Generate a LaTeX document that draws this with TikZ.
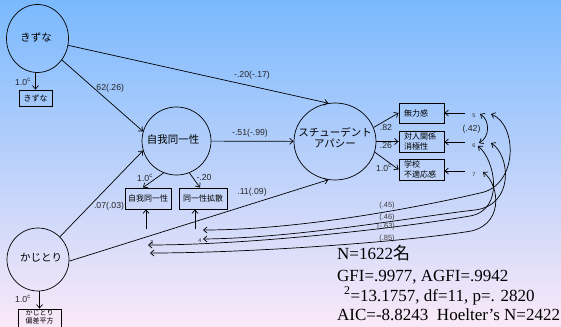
\documentclass[tikz,border=0pt]{standalone}
\usepackage{fontspec}
\setmainfont{Liberation Serif}
\setsansfont{Liberation Sans}
\newfontfamily\jp{Noto Sans CJK JP}
\usetikzlibrary{arrows.meta,shapes.geometric}
\definecolor{bgtop}{RGB}{122,185,254}
\definecolor{bgmid}{RGB}{202,215,240}
\definecolor{bgbot}{RGB}{250,233,248}
\tikzset{
  lat/.style={draw, ellipse, line width=0.7pt, inner sep=0pt},
  lattext/.style={font=\jp\fontsize{10.5}{11.5}\selectfont, inner sep=0pt},
  obs/.style={draw, rectangle, line width=0.9pt, font=\jp\fontsize{8}{9.5}\selectfont, inner sep=0pt},
  obsL/.style={obs, text width=35pt, inner xsep=5pt, align=left},
  arr/.style={line width=0.7pt, -{Straight Barb[length=3.5pt,width=6pt]}},
  darr/.style={line width=0.7pt, {Straight Barb[length=3.5pt,width=6pt]}-{Straight Barb[length=3.5pt,width=6pt]}},
  coef/.style={font=\sffamily\fontsize{8.7}{10}\selectfont, inner sep=0pt, text=black!85},
  cov/.style={font=\sffamily\fontsize{7.5}{8}\selectfont, inner sep=0pt, text=black!75},
  eid/.style={font=\sffamily\fontsize{5.5}{6}\selectfont, inner sep=0pt, text=black!80},
  stat/.style={font=\fontsize{17}{20}\selectfont, anchor=base west, inner sep=0pt},
}
\begin{document}
\begin{tikzpicture}[x=1pt,y=-1pt]
\clip (0,0) rectangle (561,326);
\shade[top color=bgtop, middle color=bgmid, bottom color=bgbot] (0,0) rectangle (561,326);

% latent variables
\node[lat, minimum width=62pt, minimum height=68pt] (kizuna) at (37.5,38.5) {};
\node[lattext] (kizunaT) at (36,37.5) {きずな};
\node[lat, minimum width=69pt, minimum height=68pt] (jiga) at (176.5,141) {};
\node[lattext] (jigaT) at (173,140) {自我同一性};
\node[lat, minimum width=82pt, minimum height=77pt] (sa) at (335,141.5) {};
\node[lattext, align=center] (saT) at (335,137.5) {スチューデント\\アパシー};
\node[lat, minimum width=62pt, minimum height=63pt] (kaji) at (38,259.5) {};
\node[lattext] (kajiT) at (41,258) {かじとり};

% observed variables
\node[obs, minimum width=33pt, minimum height=16pt] (kbox) at (35.5,98) {きずな};
\node[obs, minimum width=46pt, minimum height=21pt] (jb1) at (148,198.5) {自我同一性};
\node[obs, minimum width=48pt, minimum height=21pt] (jb2) at (203,198.5) {同一性拡散};
\node[obsL, minimum height=20pt] (b1) at (421.5,113) {無力感};
\node[obsL, minimum height=21pt] (b2) at (421.5,141.5) {対人関係\\消極性};
\node[obsL, minimum height=21pt] (b3) at (421.5,169.5) {学校\\不適応感};
\node[obs, minimum width=43pt, minimum height=24pt] (kjbox) at (39.5,321) {};
\node[font=\jp\fontsize{7}{7.5}\selectfont, inner sep=0pt, align=center] (kjT) at (39.5,317) {かじとり\\偏差平方};

% paths
\draw[arr] (kbox.north |- kizuna.south) -- (kbox.north);
\draw[arr] (kjbox.north |- kaji.south) -- (kjbox.north);
\draw[arr] (kizuna) -- (jiga.164);
\draw[arr] (kizuna) -- (sa.100);
\draw[arr] (jiga) -- (sa);
\draw[arr] (kaji) -- (jiga.196);
\draw[arr] (kaji.-3) -- (sa.260);
\draw[arr] (jiga.-112) -- ([xshift=-5pt]jb1.north);
\draw[arr] (jiga.-68) -- ([xshift=-3pt]jb2.north);
\draw[arr] (sa.20) -- (b1.west);
\draw[arr] (sa) -- (b2);
\draw[arr] (sa.-15) -- (b3.west);

% error terms
\coordinate (e3) at (146,229);
\coordinate (e4) at (195,229);
\coordinate (e5) at (465,113);
\coordinate (e6) at (465,142);
\coordinate (e7) at (465,171);
\draw[arr] (e3) -- (e3 |- jb1.south);
\draw[arr] (e4) -- (e4 |- jb2.south);
\draw[arr] (e5) -- (e5 -| b1.east);
\draw[arr] (e6) -- (e6 -| b2.east);
\draw[arr] (e7) -- (e7 -| b3.east);
\node[eid] (n5) at (474,116) {5};
\node[eid] (n6) at (474,146) {6};
\node[eid] (n7) at (474,175) {7};
\node[eid] (n4) at (200,241) {4};
\node[eid] (n3) at (152,243) {3};

% covariances
\coordinate (c5i) at (480,114);
\coordinate (c6i) at (479,143);
\coordinate (c5o) at (491,114);
\coordinate (c6o) at (491,143);
\coordinate (c6j) at (478,146);
\coordinate (c7) at (483,172);
\coordinate (l1) at (203,230);
\coordinate (l2) at (203,239);
\coordinate (l3) at (148,245);
\coordinate (l4) at (150,253);
\draw[darr] (c5i) .. controls (490,120) and (490,137) .. (c6i);
\draw[darr] (c5o) .. controls (518,125) and (518,186) .. (480,193) .. controls (420,207) and (300,230) .. (l1);
\draw[darr] (c6o) .. controls (510,155) and (515,205) .. (475,210) .. controls (420,216) and (300,238) .. (l2);
\draw[darr] (c6j) .. controls (495,160) and (505,210) .. (470,216) .. controls (400,228) and (250,245) .. (l3);
\draw[darr] (c7) .. controls (500,185) and (505,228) .. (465,232) .. controls (400,242) and (250,253) .. (l4);

% coefficients
\node[coef] (k62) at (109,88) {.62(.26)};
\node[coef] (k20) at (252,75) {-.20(-.17)};
\node[coef] (k51) at (250,133) {-.51(-.99)};
\node[coef] (k07) at (109,206) {.07(.03)};
\node[coef] (k11) at (252,192) {.11(.09)};
\node[coef] (kk) at (23,82) {1.0\textsuperscript{c}};
\node[coef] (kkj) at (23,299) {1.0\textsuperscript{c}};
\node[coef] (kj1) at (145,178) {1.0\textsuperscript{c}};
\node[coef] (kj2) at (204,178) {-.20};
\node[coef] (k82) at (386,128) {.82};
\node[coef] (k26) at (386,146) {.26};
\node[coef] (k10) at (384,168) {1.0\textsuperscript{c}};
\node[coef] (k42) at (471.5,129) {(.42)};
\node[cov] (v45) at (387,206) {(.45)};
\node[cov] (v46) at (387,218) {(.46)};
\node[cov] (v63) at (386,227) {(-.63)};
\node[cov] (v85) at (387,239) {(.85)};

% statistics
\node[stat] (s1) at (337,259) {N=1622{\jp 名}};
\node[stat] (s2) at (337,281) {GFI=.9977, AGFI=.9942};
\node[stat] (s3) at (344,301) {\textsuperscript{2}=13.1757, df=11, p=. 2820};
\node[stat] (s4) at (337,320.5) {AIC=-8.8243\ \ Hoelter’s N=2422};
\end{tikzpicture}
\end{document}
